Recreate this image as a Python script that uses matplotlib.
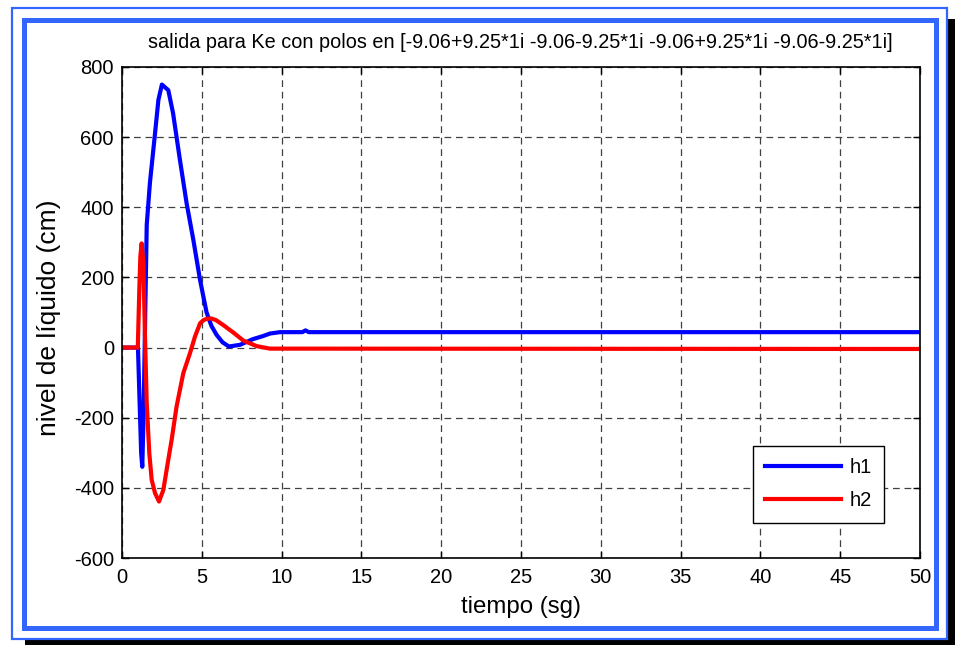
import matplotlib
matplotlib.use("Agg")
import matplotlib.pyplot as plt
from matplotlib.patches import Rectangle

plt.rcParams['font.family'] = ['Liberation Sans', 'DejaVu Sans']
plt.rcParams['axes.unicode_minus'] = False

# Response of the two tank levels
t_h1 = [0, 1.0, 1.1, 1.2, 1.27, 1.35, 1.42, 1.55, 1.75, 2.07, 2.28, 2.5, 2.9, 3.2,
        3.63, 4.05, 4.47, 4.89, 5.1, 5.3, 5.6, 5.93, 6.3, 6.7, 7.4, 8.2, 8.85,
        9.27, 9.9, 11.3, 11.5, 11.7, 50]
h1 = [0, 0, -150, -300, -340, -200, 0, 350, 470, 611, 706, 750, 734, 668,
      535, 411, 307, 193, 145, 100, 62, 36, 15, 3, 8, 24, 33,
      40, 44, 44, 49, 44, 44]

t_h2 = [0, 0.99, 1.09, 1.15, 1.23, 1.34, 1.44, 1.55, 1.71, 1.86, 2.07, 2.32, 2.59,
        2.9, 3.11, 3.42, 3.84, 4.26, 4.57, 4.89, 5.1, 5.3, 5.6, 5.9, 6.35, 7.0,
        7.6, 8.44, 9.27, 50]
h2 = [0, 0, 174, 260, 297, 240, 31, -159, -301, -377, -415, -439, -406,
      -320, -263, -168, -73, -16, 31, 69, 78, 82, 83, 78, 64, 42,
      20, 4, -3, -4]

x_ticks = [0, 5, 10, 15, 20, 25, 30, 35, 40, 45, 50]
y_ticks = [-600, -400, -200, 0, 200, 400, 600, 800]

title = "salida para Ke con polos en [-9.06+9.25*1i -9.06-9.25*1i -9.06+9.25*1i -9.06-9.25*1i]"

W, H = 955, 645
fig = plt.figure(figsize=(W / 100, H / 100), dpi=100)
fig.patch.set_facecolor('white')


def px_rect(x0, y0, x1, y1, **kw):
    # rectangle given in pixel coordinates measured from the top-left corner
    return Rectangle((x0 / W, 1 - y1 / H), (x1 - x0) / W, (y1 - y0) / H,
                     transform=fig.transFigure, zorder=-5, **kw)


border = '#3366ff'
# drop shadow
fig.patches.append(px_rect(25, 639, 955, 645, facecolor='black', edgecolor='none'))
fig.patches.append(px_rect(948, 19, 955, 645, facecolor='black', edgecolor='none'))
# outer thin frame
fig.patches.append(px_rect(12, 7.5, 947, 639, facecolor='white', edgecolor=border, linewidth=1.6))
# inner thick frame
fig.patches.append(px_rect(23.5, 19.5, 935.5, 627.5, facecolor='none', edgecolor=border, linewidth=3.6))

ax = fig.add_axes([122 / W, 1 - 558 / H, (920 - 122) / W, (558 - 67) / H])
ax.plot(t_h1, h1, color='#0000ff', linewidth=3.0, label='h1', solid_joinstyle='round')
ax.plot(t_h2, h2, color='#ff0000', linewidth=3.0, label='h2', solid_joinstyle='round')

ax.set_xlim(0, 50)
ax.set_ylim(-600, 800)
ax.set_xticks(x_ticks)
ax.set_yticks(y_ticks)
ax.tick_params(direction='in', length=5, width=1, top=True, right=True,
               labelsize=14.5, colors='black')
ax.tick_params(axis='x', pad=7)
ax.tick_params(axis='y', pad=5.8)
for s in ax.spines.values():
    s.set_linewidth(1.2)
ax.grid(True, color='#404040', linestyle=(0, (5.4, 3.8)), linewidth=0.9)

fig.text(520.5 / W, 1 - 48 / H, title, fontsize=14.3, ha='center', va='baseline')

ax.set_xlabel('tiempo (sg)', fontsize=17.3)
ax.xaxis.set_label_coords(0.5, (558 - 613) / 491)
ax.xaxis.label.set_verticalalignment('baseline')

ax.set_ylabel('nivel de líquido (cm)', fontsize=19)
ax.yaxis.set_label_coords((56 - 122) / 798, (558 - 318) / 491)
ax.yaxis.label.set_verticalalignment('baseline')

leg = ax.legend(loc='upper left', bbox_to_anchor=(753 / W, 1 - 446 / H),
                bbox_transform=fig.transFigure, borderaxespad=0,
                fancybox=False, framealpha=1, edgecolor='black', fontsize=14.5,
                handlelength=3.73, borderpad=0.62, labelspacing=0.68,
                handletextpad=0.45)
leg.get_frame().set_linewidth(1.0)

fig.savefig('out.png', dpi=100)
